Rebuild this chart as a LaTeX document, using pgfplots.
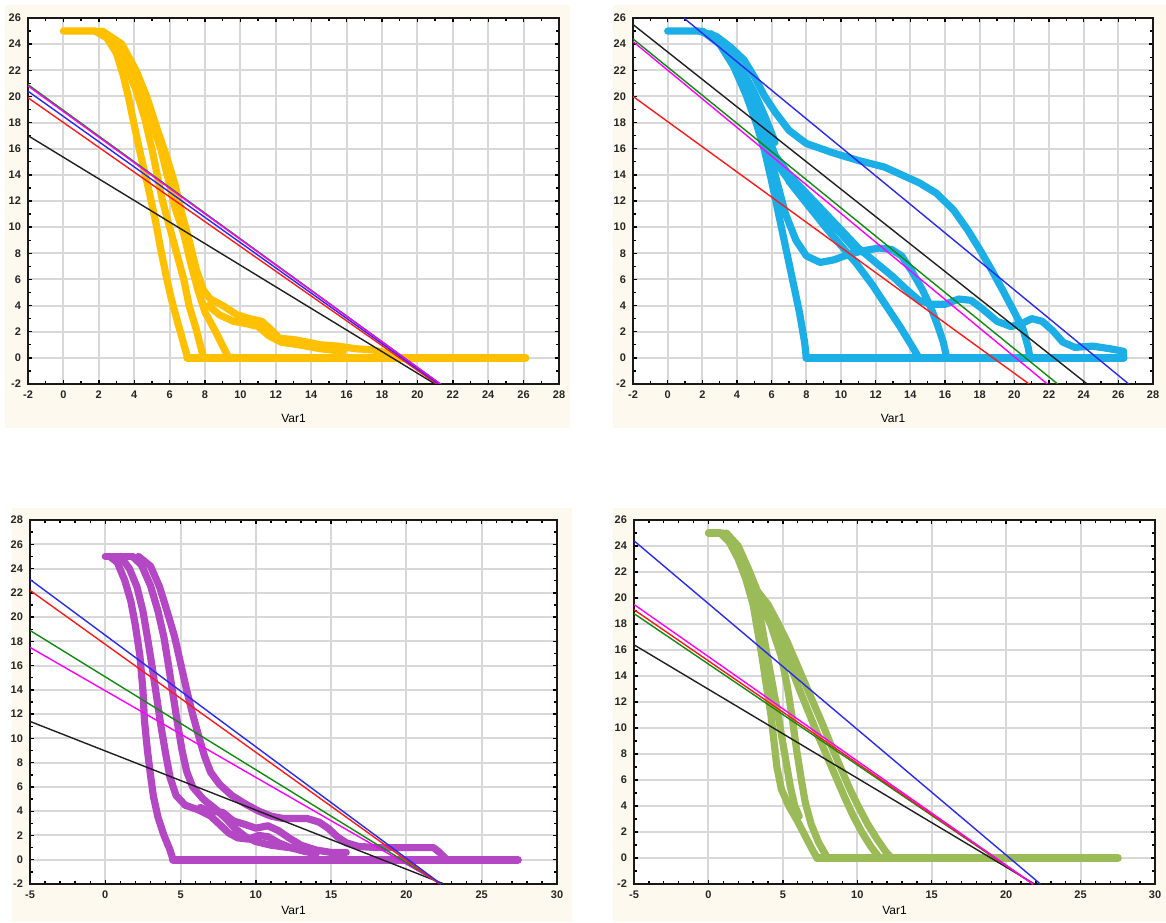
\documentclass[border=0pt]{standalone}
\usepackage{pgfplots}
\pgfplotsset{compat=1.18}
\usepackage{fontspec}
\setmainfont{Liberation Sans}
\definecolor{cream}{HTML}{FEF9EE}
\definecolor{gridgray}{HTML}{D8D8D8}
\definecolor{cyel}{HTML}{FFC000}
\definecolor{ccya}{HTML}{1CAEE6}
\definecolor{cpur}{HTML}{B447C4}
\definecolor{cgrn}{HTML}{9BBB59}
\definecolor{lred}{HTML}{FF1A1A}
\definecolor{lblu}{HTML}{2A2AF0}
\definecolor{lmag}{HTML}{FF00FF}
\definecolor{lgrn}{HTML}{108A10}
\definecolor{lblk}{HTML}{202020}
\pgfplotsset{
  panel/.style={
    scale only axis,
    axis background/.style={fill=white},
    grid=major,
    major grid style={line width=1pt, color=gridgray},
    axis line style={line width=1pt, black!90},
    tick style={black, line width=0.7pt},
    major tick length=2pt, minor tick length=1.5pt,
    tick align=inside,
    ticklabel style={font=\fontsize{5.5}{6}\selectfont\bfseries, text=black!85},
    /pgf/number format/assume math mode=true,
    xlabel={Var1},
    clip=true,
  },
  toplab/.style={xlabel style={font=\fontsize{6}{7}\selectfont, at={(axis description cs:0.5,0)}, anchor=center, yshift=-17pt}},
  botlab/.style={xlabel style={font=\fontsize{6}{7}\selectfont, at={(axis description cs:0.5,0)}, anchor=center, yshift=-13pt}},
  curve/.style={line width=3.6pt, line join=round, line cap=round},
  reg/.style={line width=0.7pt},
}
\begin{document}
\begin{tikzpicture}
\useasboundingbox (0pt,0pt) rectangle (583pt,461pt);
\fill[white] (0pt,0pt) rectangle (583pt,461pt);
\fill[cream] (2.5pt,247pt) rectangle (285pt,458.5pt);
\fill[cream] (306.5pt,247pt) rectangle (583pt,458.5pt);
\fill[cream] (6pt,0pt) rectangle (286pt,207pt);
\fill[cream] (306.5pt,0pt) rectangle (583pt,207pt);

% ---------------- Panel 1 ----------------
\begin{axis}[panel, toplab, at={(14pt,269pt)}, anchor=south west,
  width=265.5pt, height=183pt,
  xmin=-2, xmax=28, ymin=-2, ymax=26,
  xtick={-2,0,...,28}, ytick={-2,0,...,26},
  minor x tick num=1, minor y tick num=1]
\addplot[curve, cyel] coordinates {(0,25) (1.8,25) (2.4,24.6) (3.0,23.3) (3.4,21.5) (3.7,19.8) (4.0,17.8) (4.4,15.3) (4.8,13) (5.2,10.5) (5.5,8.3) (5.8,6.3) (6.1,4.5) (6.5,2.5) (7.0,0.1)};
\addplot[curve, cyel] coordinates {(1.8,25) (2.8,24.2) (3.5,22.5) (4.1,20.5) (4.6,18.3) (5.0,16) (5.3,14) (5.6,12) (6.0,10) (6.4,8) (6.8,6) (7.1,4) (7.5,2.2) (7.9,0.1)};
\addplot[curve, cyel] coordinates {(2,25) (3.1,24) (3.8,22.2) (4.4,20.2) (5.0,18) (5.5,16) (5.9,13.8) (6.3,11.5) (6.8,9.5) (7.2,7.2) (7.6,5.2) (8.0,3.5) (8.6,2) (9.3,0.1)};
\addplot[curve, cyel] coordinates {(2.2,25) (3.3,24) (4.1,22) (4.7,20) (5.3,17.5) (5.8,15.5) (6.3,13.3) (6.7,11) (7.1,9) (7.5,6.8) (7.9,5.2) (8.3,4.5) (9,4) (9.8,3.3) (10.5,3.0) (11.2,2.8) (11.7,2.2) (12.2,1.5) (13,1.4) (13.8,1.2) (14.5,1.0) (15.5,0.9) (16.5,0.7) (17.5,0.6) (18.5,0.3)};
\addplot[curve, cyel] coordinates {(8.2,4) (8.8,3.3) (9.6,2.8) (10.4,2.6) (11.0,2.4) (11.6,1.7) (12.3,1.2) (13.3,1.0) (14.5,0.7) (15.8,0.5)};
\addplot[curve, cyel, line width=4pt] coordinates {(7,0) (26.1,0)};
\addplot[reg, lgrn] coordinates {(-2,20.9) (21.3,-2)};
\addplot[reg, lblk] coordinates {(-2,17.0) (21.0,-2)};
\addplot[reg, lred] coordinates {(-2,19.9) (21.1,-2)};
\addplot[reg, lblu] coordinates {(-2,20.4) (21.2,-2)};
\addplot[reg, lmag] coordinates {(-2,20.8) (21.3,-2)};
\end{axis}

% ---------------- Panel 2 ----------------
\begin{axis}[panel, toplab, at={(316.5pt,269pt)}, anchor=south west,
  width=260pt, height=183pt,
  xmin=-2, xmax=28, ymin=-2, ymax=26,
  xtick={-2,0,...,28}, ytick={-2,0,...,26},
  minor x tick num=1, minor y tick num=1]
\addplot[curve, ccya] coordinates {(0,25) (1.8,25) (2.8,24.6) (3.6,23.8) (4.4,22.8) (5.0,21.5) (5.6,20) (6.2,18.8) (7.0,17.4) (8.0,16.4) (9.5,15.7) (11,15.1) (12.5,14.6) (13.5,14.0) (14.5,13.4) (15.5,12.6) (16.5,11.3) (17.3,9.8) (18,8.3) (18.7,6.7) (19.4,5) (20,3.5) (20.5,2.2) (20.8,0.8) (20.9,0)};
\addplot[curve, ccya] coordinates {(2.5,24.8) (3.5,23.5) (4.3,22) (5,20.3) (5.6,18.5) (6.2,16.5)};
\addplot[curve, ccya] coordinates {(2,25) (3,24) (3.8,22.3) (4.5,20.2) (5.1,18) (5.6,15.8) (6.0,13.5) (6.4,11) (6.8,8.5) (7.2,6) (7.6,3.5) (7.9,1.2) (8.0,0)};
\addplot[curve, ccya] coordinates {(4.5,21) (5.2,18.5) (5.8,16) (6.3,13.5) (6.8,11) (7.4,9) (8.0,7.8) (8.8,7.3) (9.6,7.5) (10.4,7.9) (11.3,8.2) (12.2,8.4) (12.9,8.3) (13.5,7.8) (14.1,6.6) (14.7,5.2) (15.2,3.8) (15.6,2.4) (15.9,1.2) (16.1,0)};
\addplot[curve, ccya] coordinates {(5,19.5) (5.8,16.5) (6.5,14.5) (7.3,13) (8.2,11.5) (9.1,10) (10,8.6) (10.9,7.2) (11.8,5.6) (12.6,4) (13.4,2.4) (14.0,1.1) (14.5,0)};
\addplot[curve, ccya] coordinates {(5.5,18) (6.2,15.5) (7.0,14) (8.0,12.6) (9.0,11.2) (10.0,9.8) (11,8.4) (12,7.3) (13,6.2) (13.8,5.2) (14.5,4.4) (15.2,4.1) (16,4.1) (16.8,4.5) (17.5,4.4) (18.2,3.7) (19,2.8) (19.8,2.4) (20.4,2.6) (21,3.0) (21.6,2.8) (22.2,2.1) (22.8,1.2) (23.5,0.8) (24.5,0.9) (25.5,0.7) (26.3,0.5) (26.3,0)};
\addplot[curve, ccya] coordinates {(7,13.5) (8,12) (9,10.8) (10,9.5) (10.8,8.3) (11.5,8.0)};
\addplot[curve, ccya, line width=4pt] coordinates {(8,0) (26.3,0)};
\addplot[reg, lblk] coordinates {(-2,25.5) (24.2,-2)};
\addplot[reg, lgrn] coordinates {(-2,24.4) (22.5,-2)};
\addplot[reg, lmag] coordinates {(-2,24.2) (21.9,-2)};
\addplot[reg, lred] coordinates {(-2,20.0) (20.85,-2)};
\addplot[reg, lblu] coordinates {(0.93,26) (26.6,-2)};
\end{axis}

% ---------------- Panel 3 ----------------
\begin{axis}[panel, botlab, at={(15pt,19pt)}, anchor=south west,
  width=263.5pt, height=182pt,
  xmin=-5, xmax=30, ymin=-2, ymax=28,
  xtick={-5,0,...,30}, ytick={-2,0,...,28},
  minor x tick num=4, minor y tick num=1]
\addplot[curve, cpur] coordinates {(0,25) (1.8,25)};
\addplot[curve, cpur] coordinates {(0.3,25) (0.8,24.5) (1.3,23) (1.7,21.3) (2.0,19.3) (2.3,16.8) (2.5,14) (2.6,11.5) (2.8,9) (3.0,7) (3.2,5.2) (3.5,3.5) (3.9,2) (4.3,0.8) (4.5,0)};
\addplot[curve, cpur] coordinates {(1.0,25) (1.6,24) (2.1,22.5) (2.5,20.5) (2.8,18.3) (3.1,16) (3.4,13.5) (3.7,11) (4.0,8.8) (4.3,6.8) (4.7,5.3) (5.3,4.5) (6.2,4.1) (7.0,3.6) (7.6,2.9) (8.2,2.2) (8.8,1.8) (9.5,1.7) (10.2,2.0) (10.8,1.9) (11.5,1.4) (12.3,1.0) (13.2,0.7) (14,0.5)};
\addplot[curve, cpur] coordinates {(1.8,25) (2.4,24.3) (3.0,22.6) (3.5,20.5) (3.9,18.3) (4.2,16) (4.5,13.6) (4.8,11.2) (5.1,9) (5.4,7.3) (5.8,6) (6.5,5) (7.4,4.1) (8.0,3.4) (8.6,2.6) (9.3,1.9) (10,1.5) (11,1.2) (12.2,1.0) (13.5,0.9)};
\addplot[curve, cpur] coordinates {(2.2,25) (3.0,24.2) (3.6,22.5) (4.1,20.5) (4.6,18.4) (5.0,16.2) (5.4,14) (5.8,12) (6.2,10.2) (6.6,8.5) (7.0,7.2) (7.6,6.2) (8.4,5.3) (9.3,4.6) (10.2,4.0) (11.0,3.6) (11.8,3.4) (12.6,3.4) (13.4,3.4) (14.2,3.1) (14.8,2.6) (15.4,1.9) (16.0,1.4) (16.8,1.1) (18,1.0) (20,1.0) (21.8,1.0) (22.2,0.6) (22.6,0.1)};
\addplot[curve, cpur] coordinates {(6.3,4.3) (7.0,4.0) (7.8,3.9) (8.5,3.2) (9.3,2.9) (10.0,2.6) (10.8,2.8) (11.5,2.4) (12.2,1.8) (13,1.2) (14,0.8) (15,0.6) (16,0.6)};
\addplot[curve, cpur, line width=4pt] coordinates {(4.5,0) (27.4,0)};
\addplot[reg, lblk] coordinates {(-5,11.4) (22.5,-2)};
\addplot[reg, lmag] coordinates {(-5,17.5) (22.3,-2)};
\addplot[reg, lgrn] coordinates {(-5,18.9) (22.3,-2)};
\addplot[reg, lred] coordinates {(-5,22.2) (22.2,-2)};
\addplot[reg, lblu] coordinates {(-5,23.1) (22.3,-2)};
\end{axis}

% ---------------- Panel 4 ----------------
\begin{axis}[panel, botlab, at={(317pt,19pt)}, anchor=south west,
  width=260.5pt, height=182pt,
  xmin=-5, xmax=30, ymin=-2, ymax=26,
  xtick={-5,0,...,30}, ytick={-2,0,...,26},
  minor x tick num=4, minor y tick num=1]
\addplot[curve, cgrn] coordinates {(0,25) (0.8,25)};
\addplot[curve, cgrn] coordinates {(0.8,25) (1.4,24.3) (2.0,23) (2.5,21.5) (3.0,19.5) (3.3,17.5) (3.6,15.5) (3.9,13.2) (4.2,11) (4.4,9) (4.6,7) (4.9,5.3) (5.4,4) (6.0,2.8) (6.5,1.7) (7.0,0.6) (7.3,0)};
\addplot[curve, cgrn] coordinates {(1.0,25) (1.8,24) (2.5,22.3) (3.0,20.5) (3.4,19) (3.8,16.5) (4.2,14) (4.6,11.5) (4.9,9.5) (5.2,7.5) (5.5,5.5) (5.8,4) (6.1,3.2)};
\addplot[curve, cgrn] coordinates {(1.2,25) (2.0,24) (2.7,22.2) (3.3,20.5) (3.9,19) (4.4,17.2) (4.9,15.5) (5.3,13.2) (5.6,11) (5.9,8.5) (6.2,6.3) (6.5,4.3) (6.9,2.6) (7.4,1.2) (8.0,0)};
\addplot[curve, cgrn] coordinates {(3.3,20.5) (4.0,19.5) (4.7,18) (5.3,16.6) (5.9,15) (6.5,13.4) (7.1,11.8) (7.7,10.2) (8.3,8.5) (8.9,6.9) (9.5,5.3) (10.1,3.9) (10.7,2.6) (11.3,1.5) (11.9,0.5) (12.3,0)};
\addplot[curve, cgrn] coordinates {(3.5,19.3) (4.2,18) (4.9,16.4) (5.5,14.8) (6.1,13) (6.7,11.3) (7.3,9.6) (7.9,8) (8.5,6.4) (9.1,4.8) (9.7,3.3) (10.3,2) (10.9,0.9) (11.5,0)};
\addplot[curve, cgrn, line width=4pt] coordinates {(7.3,0) (27.5,0)};
\addplot[reg, lblk] coordinates {(-5,16.4) (21.9,-2)};
\addplot[reg, lgrn] coordinates {(-5,18.8) (21.8,-2)};
\addplot[reg, lred] coordinates {(-5,19.1) (21.8,-2)};
\addplot[reg, lmag] coordinates {(-5,19.5) (21.8,-2)};
\addplot[reg, lblu] coordinates {(-5,24.4) (22.3,-2)};
\end{axis}
\end{tikzpicture}
\end{document}
